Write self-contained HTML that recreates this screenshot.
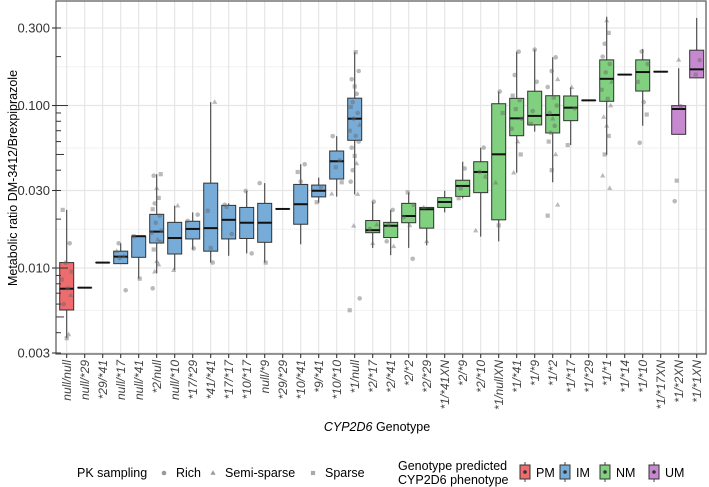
<!DOCTYPE html>
<html><head><meta charset="utf-8">
<style>
body{margin:0;background:#fff;}
svg{display:block;font-family:"Liberation Sans",Arial,sans-serif;}
</style></head>
<body>
<svg id="chart" width="709" height="487" viewBox="0 0 709 487"></svg>
<script>
const categories=["null/null","null/*29","*29/*41","null/*17","null/*41","*2/null","null/*10","*17/*29","*41/*41","*17/*17","*10/*17","null/*9","*29/*29","*10/*41","*9/*41","*10/*10","*1/null","*2/*17","*2/*41","*2/*2","*2/*29","*1/*41XN","*2/*9","*2/*10","*1/nullXN","*1/*41","*1/*9","*1/*2","*1/*17","*1/*29","*1/*1","*1/*14","*1/*10","*1/*17XN","*1/*2XN","*1/*1XN"];
const phenotypes=["PM","IM","IM","IM","IM","IM","IM","IM","IM","IM","IM","IM","IM","IM","IM","IM","IM","NM","NM","NM","NM","NM","NM","NM","NM","NM","NM","NM","NM","NM","NM","NM","NM","NM","UM","UM"];
const whiskerLow=[0.0037,0.00757,0.0108,0.01064,0.0086,0.0093,0.0097,0.0130,0.0108,0.0119,0.0123,0.0108,0.0231,0.0140,0.0252,0.0275,0.0284,0.0133,0.0120,0.0133,0.0138,0.0220,0.0268,0.0156,0.0146,0.0386,0.0691,0.0337,0.0571,0.1076,0.0497,0.155,0.0751,0.1615,0.0665,0.148];
const q1=[0.00552,0.00757,0.0108,0.01064,0.01164,0.01426,0.0122,0.0151,0.0127,0.0151,0.0152,0.0144,0.0231,0.0186,0.0274,0.0353,0.0611,0.0165,0.0154,0.0190,0.0176,0.0236,0.0276,0.0291,0.0198,0.0652,0.0760,0.0678,0.0807,0.1076,0.1062,0.155,0.1228,0.1615,0.0665,0.148];
const median=[0.00746,0.00757,0.0108,0.01175,0.0157,0.01675,0.0153,0.0174,0.0176,0.0198,0.0190,0.0190,0.0231,0.0247,0.0299,0.0454,0.0830,0.0171,0.0182,0.0209,0.0230,0.0255,0.0320,0.0390,0.0501,0.0834,0.0863,0.0875,0.0970,0.1076,0.146,0.155,0.1607,0.1615,0.0952,0.167];
const q3=[0.0108,0.00757,0.0108,0.0127,0.0157,0.0214,0.0191,0.0194,0.0333,0.0243,0.0236,0.0250,0.0231,0.0327,0.0324,0.0525,0.111,0.0196,0.0191,0.0250,0.0236,0.0271,0.0347,0.0451,0.1026,0.1107,0.1225,0.1149,0.1145,0.1076,0.191,0.155,0.191,0.1615,0.0998,0.219];
const whiskerHigh=[0.0228,0.00757,0.0108,0.0142,0.0157,0.0378,0.0242,0.0220,0.105,0.0250,0.0298,0.0333,0.0231,0.0435,0.0360,0.0648,0.213,0.0256,0.0228,0.0292,0.0236,0.0299,0.0451,0.0550,0.1216,0.2145,0.221,0.198,0.1294,0.1076,0.352,0.155,0.223,0.1615,0.1695,0.346];
// individual observations: group index, value, sampling (0 Rich,1 Semi-sparse,2 Sparse)
const pointGroup=[0,0,0,0,0,0,0,0,0,0,3,3,3,3,3,4,4,5,5,5,5,5,5,5,5,5,5,5,5,5,5,5,5,5,6,6,7,7,7,8,8,8,8,9,9,9,10,10,11,11,13,13,13,14,14,15,15,15,15,15,16,16,16,16,16,16,16,16,16,16,16,16,16,16,16,16,16,16,16,16,16,16,17,17,17,17,18,18,18,18,19,19,19,19,19,20,20,22,22,22,23,23,23,23,24,24,24,24,25,25,25,25,25,25,25,25,25,25,26,26,26,26,27,27,27,27,27,27,27,27,27,27,27,27,27,27,27,28,28,28,30,30,30,30,30,30,30,30,30,30,30,30,30,30,30,30,32,32,32,32,32,32,34,34,34,34,35,35];
const pointValue=[0.0228,0.0142,0.0108,0.0095,0.0085,0.0075,0.0068,0.006,0.0037,0.0039,0.0142,0.0127,0.0118,0.0115,0.0073,0.0157,0.0086,0.0378,0.037,0.031,0.027,0.025,0.023,0.021,0.019,0.017,0.0165,0.015,0.0145,0.013,0.011,0.0105,0.0095,0.0075,0.0242,0.0097,0.0213,0.0195,0.0132,0.105,0.0225,0.0133,0.0108,0.0238,0.0245,0.0162,0.0298,0.0123,0.0333,0.0108,0.0435,0.039,0.0341,0.0316,0.0254,0.0648,0.046,0.0417,0.0337,0.0286,0.213,0.163,0.145,0.131,0.118,0.105,0.098,0.09,0.083,0.076,0.07,0.065,0.06,0.055,0.049,0.044,0.04,0.034,0.0285,0.0182,0.0065,0.0055,0.0256,0.0185,0.0174,0.0142,0.0228,0.0184,0.0146,0.0136,0.0292,0.0245,0.0206,0.0183,0.0114,0.0236,0.0146,0.041,0.0309,0.0269,0.0551,0.0391,0.0364,0.017,0.122,0.09,0.0335,0.0183,0.2145,0.154,0.115,0.108,0.095,0.083,0.072,0.06,0.05,0.0386,0.221,0.14,0.0925,0.0771,0.198,0.163,0.145,0.13,0.112,0.1,0.09,0.083,0.075,0.068,0.06,0.05,0.04,0.0245,0.021,0.1294,0.096,0.0571,0.333,0.28,0.24,0.2,0.18,0.16,0.14,0.125,0.11,0.1,0.085,0.075,0.065,0.05,0.037,0.031,0.215,0.18,0.14,0.105,0.088,0.059,0.191,0.099,0.0345,0.0258,0.19,0.155];
const pointShape=[2,0,0,2,2,0,1,0,2,1,0,1,1,0,0,2,2,2,0,1,2,0,2,0,0,2,0,1,0,2,1,1,1,0,1,1,0,0,0,1,2,2,0,2,0,0,0,0,0,2,0,2,0,0,2,0,0,2,2,1,2,0,0,2,0,0,2,0,0,1,2,0,0,0,2,1,0,0,1,1,0,2,0,1,0,1,0,2,0,1,2,2,0,1,0,1,1,0,2,2,0,0,0,1,0,2,1,2,0,0,2,0,2,0,0,1,2,1,0,0,0,2,0,0,1,0,2,0,0,1,0,0,2,1,2,1,2,1,0,2,1,2,0,0,0,0,1,0,2,1,1,1,2,2,1,1,0,0,2,0,2,0,1,0,2,0,0,2];
const yTicks=[0.3,0.1,0.03,0.01,0.003];
const yTickLabels=["0.300","0.100","0.030","0.010","0.003"];
const legendPhen=["PM","IM","NM","UM"];
const samplingNames=["Rich","Semi-sparse","Sparse"];

const NS="http://www.w3.org/2000/svg";
const svg=document.getElementById('chart');
const L=56,R=706,T=1,B=354;
const colors={PM:"#ee6b6e",IM:"#78acd8",NM:"#80d07f",UM:"#c689d0"};
function ys(v){return 28+(Math.log10(0.3)-Math.log10(v))*162.5;}
function xs(i){return 66.7+18*i;}
function mk(tag,attrs,parent){const e=document.createElementNS(NS,tag);for(const k in attrs)e.setAttribute(k,attrs[k]);(parent||svg).appendChild(e);return e;}

const grid=mk('g',{});


for(let k=0;k<yTicks.length-1;k++){const v=Math.sqrt(yTicks[k]*yTicks[k+1]);mk('line',{x1:L,x2:R,y1:ys(v),y2:ys(v),stroke:"#f2f2f2","stroke-width":1},grid);}
yTicks.forEach(v=>mk('line',{x1:L,x2:R,y1:ys(v),y2:ys(v),stroke:"#e6e6e6","stroke-width":1.2},grid));
categories.forEach((c,i)=>mk('line',{x1:xs(i),x2:xs(i),y1:T,y2:B,stroke:"#e6e6e6","stroke-width":1.2},grid));

categories.forEach((c,i)=>{
  const g=mk('g',{});
  
  
  const x=xs(i),w=14,col=colors[phenotypes[i]];
  mk('line',{x1:x,x2:x,y1:ys(whiskerHigh[i]),y2:ys(q3[i]),stroke:"#444","stroke-width":1.1},g);
  mk('line',{x1:x,x2:x,y1:ys(q1[i]),y2:ys(whiskerLow[i]),stroke:"#444","stroke-width":1.1},g);
  const y3=ys(q3[i]),y1=ys(q1[i]);
  mk('rect',{x:x-w/2,y:y3,width:w,height:Math.max(0.01,y1-y3),fill:col,stroke:"#333","stroke-width":1},g);
  mk('line',{x1:x-w/2,x2:x+w/2,y1:ys(median[i]),y2:ys(median[i]),stroke:"#111","stroke-width":2},g);
});

const pg=mk('g',{fill:"#666","fill-opacity":0.45});


const jit=[-4,3,-1,5,-5,1,4,-3,0,2,-2];
pointValue.forEach((v,k)=>{
  const x=xs(pointGroup[k])+jit[k%jit.length],y=ys(v),s=pointShape[k];
  let e;
  if(s===0)e=mk('circle',{cx:x,cy:y,r:2.3},pg);
  else if(s===1)e=mk('polygon',{points:`${x},${y-2.8} ${x-2.6},${y+1.8} ${x+2.6},${y+1.8}`},pg);
  else e=mk('rect',{x:x-2.1,y:y-2.1,width:4.2,height:4.2},pg);
  
  
});

const border=mk('rect',{x:L,y:T,width:R-L,height:B-T,fill:"none",stroke:"#555","stroke-width":1.2});



const yax=mk('g',{});


yTicks.forEach((v,k)=>{
  mk('line',{x1:L-4,x2:L,y1:ys(v),y2:ys(v),stroke:"#333","stroke-width":1.1},yax);
  const t=mk('text',{x:L-6,y:ys(v)+4.5,"text-anchor":"end","font-size":13,fill:"#333"},yax);
  t.textContent=yTickLabels[k];
});
for(let e=-3;e<=0;e++)for(let m=1;m<=9;m++){const v=m*Math.pow(10,e);if(v<0.003||v>0.36)continue;const len=(m===1)?12:(m===5?8:5);mk('line',{x1:L,x2:L+len,y1:ys(v),y2:ys(v),stroke:"#333","stroke-width":1},yax);}
const yt=mk('text',{x:0,y:0,transform:"translate(17,178) rotate(-90)","text-anchor":"middle","font-size":12.5,fill:"#000"});
yt.textContent="Metabolic ratio DM-3412/Brexpiprazole";



const xax=mk('g',{});


categories.forEach((c,i)=>{
  mk('line',{x1:xs(i),x2:xs(i),y1:B,y2:B+4,stroke:"#333","stroke-width":1.1},xax);
  const t=mk('text',{transform:`translate(${xs(i)+4.5},${B+6}) rotate(-90)`,"text-anchor":"end","font-size":12,"font-style":"italic",fill:"#444"},xax);
  t.textContent=c;
});
const xt=mk('text',{x:377,y:431,"text-anchor":"middle","font-size":12.5,fill:"#000"});
xt.innerHTML='<tspan font-style="italic">CYP2D6</tspan> Genotype';



const lg1=mk('g',{});


let t=mk('text',{x:77,y:477,"font-size":12.5,fill:"#000"},lg1);t.textContent="PK sampling";
const sx=[164,213,313];
samplingNames.forEach((n,k)=>{
  const x=sx[k],y=473;
  if(k===0)mk('circle',{cx:x,cy:y,r:2.3,fill:"#999"},lg1);
  else if(k===1)mk('polygon',{points:`${x},${y-2.8} ${x-2.6},${y+1.8} ${x+2.6},${y+1.8}`,fill:"#999"},lg1);
  else mk('rect',{x:x-2.1,y:y-2.1,width:4.2,height:4.2,fill:"#aaa"},lg1);
  const tt=mk('text',{x:x+12,y:477,"font-size":12.5,fill:"#000"},lg1);tt.textContent=n;
});
const lg2=mk('g',{});


t=mk('text',{x:398,y:470,"font-size":12.5,fill:"#000"},lg2);t.textContent="Genotype predicted";
t=mk('text',{x:398,y:484,"font-size":12.5,fill:"#000"},lg2);t.textContent="CYP2D6 phenotype";
const px=[525,565,605,654];
legendPhen.forEach((p,k)=>{
  const x=px[k];
  mk('line',{x1:x,x2:x,y1:462,y2:482,stroke:"#444","stroke-width":1},lg2);
  mk('rect',{x:x-5,y:465,width:10,height:14,fill:colors[p],stroke:"#333","stroke-width":1},lg2);
  mk('circle',{cx:x,cy:472,r:1.8,fill:"#333"},lg2);
  const tt=mk('text',{x:x+11,y:477,"font-size":12.5,fill:"#000"},lg2);tt.textContent=p;
});
</script>
</body></html>
